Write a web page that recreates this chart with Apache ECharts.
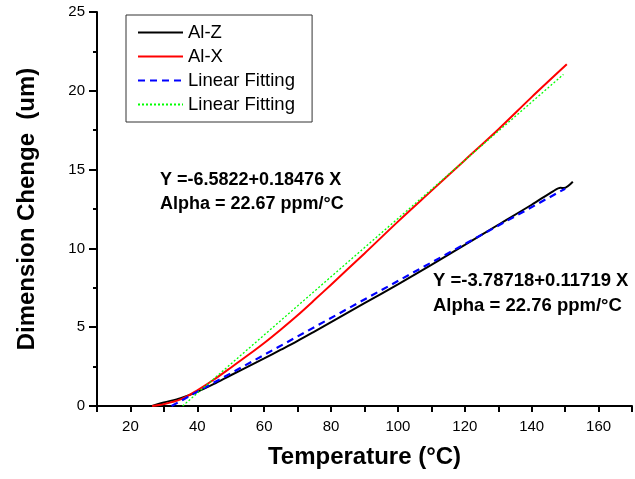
<!DOCTYPE html>
<html>
<head>
<meta charset="utf-8">
<script src="https://cdn.jsdelivr.net/npm/echarts@6/dist/echarts.min.js"></script>
<style>
html,body{margin:0;padding:0;background:#fff;}
#chart{width:635px;height:479px;}
</style>
</head>
<body>
<div id="chart"></div>
<script>
// Al-Z measured curve
var tempZ = [26.5, 30, 35, 40, 45, 50, 55, 60, 65, 70, 75, 80, 90, 100, 110, 120, 130, 140, 146.5, 148.6, 149.6, 152.3];
var alZ   = [0, 0.22, 0.5, 0.9, 1.4, 1.95, 2.48, 3.02, 3.57, 4.13, 4.72, 5.32, 6.52, 7.72, 8.95, 10.22, 11.5, 12.77, 13.64, 13.85, 13.83, 14.23];
// Al-X measured curve
var tempX = [26.5, 30, 35, 40, 45, 50, 55, 60, 65, 70, 75, 80, 90, 100, 110, 120, 130, 140, 150.5];
var alX   = [0, 0.12, 0.42, 1.0, 1.68, 2.43, 3.2, 4.0, 4.86, 5.76, 6.72, 7.7, 9.68, 11.7, 13.65, 15.6, 17.55, 19.6, 21.68];
// Linear fits (end points)
var fitZTemp = [32.3, 150];
var fitZVal  = [0, 13.79];
var fitXTemp = [35.6, 149.5];
var fitXVal  = [0, 21.04];

var seriesNames = ['Al-Z', 'Al-X', 'Linear Fitting', 'Linear Fitting '];
var xTitle = 'Temperature (°C)';
var yTitle = 'Dimension Chenge  (um)';
var note1 = ['Y =-6.5822+0.18476 X', 'Alpha = 22.67 ppm/°C'];
var note2 = ['Y =-3.78718+0.11719 X', 'Alpha = 22.76 ppm/°C'];

function pairs(xs, ys) { return xs.map(function (x, i) { return [x, ys[i]]; }); }

var FONT = 'Liberation Sans, Arial, sans-serif';
var chart = echarts.init(document.getElementById('chart'), null, {renderer: 'canvas'});
chart.setOption({
  animation: false,
  backgroundColor: '#fff',
  grid: {left: 97, right: 3, top: 12, bottom: 73, containLabel: false},
  xAxis: {
    type: 'value', min: 10, max: 170, interval: 10,
    axisLine: {show: true, onZero: false, lineStyle: {color: '#000', width: 2}},
    axisTick: {show: true, length: 6, lineStyle: {color: '#000', width: 2}},
    axisLabel: {margin: 13, color: '#000', fontSize: 15, fontFamily: FONT,
      formatter: function (v) { return v % 20 === 0 ? String(v) : ''; }},
    splitLine: {show: false},
    name: xTitle, nameLocation: 'middle', nameGap: 39,
    nameTextStyle: {fontSize: 24, fontWeight: 'bold', color: '#000', fontFamily: FONT}
  },
  yAxis: {
    type: 'value', min: 0, max: 25, interval: 5,
    axisLine: {show: true, lineStyle: {color: '#000', width: 2}},
    axisTick: {show: true, length: 8, lineStyle: {color: '#000', width: 2}},
    minorTick: {show: true, splitNumber: 2, length: 4, lineStyle: {color: '#000', width: 2}},
    axisLabel: {margin: 12, color: '#000', fontSize: 15, fontFamily: FONT},
    splitLine: {show: false},
    name: yTitle, nameLocation: 'middle', nameGap: 58,
    nameTextStyle: {fontSize: 24, fontWeight: 'bold', color: '#000', fontFamily: FONT}
  },
  legend: {
    orient: 'vertical', left: 126, top: 15,
    padding: [8, 12, 8, 11],
    itemWidth: 45, itemHeight: 14, itemGap: 5,
    borderColor: '#333', borderWidth: 1,
    itemStyle: {opacity: 0},
    textStyle: {fontSize: 18.5, color: '#000', fontFamily: FONT},
    data: seriesNames
  },
  series: [
    {name: seriesNames[0], type: 'line', symbol: 'none', smooth: 0.3, data: pairs(tempZ, alZ),
     lineStyle: {color: '#000', width: 2}, itemStyle: {color: '#000'}, z: 3},
    {name: seriesNames[1], type: 'line', symbol: 'none', smooth: 0.3, data: pairs(tempX, alX),
     lineStyle: {color: '#ff0000', width: 2}, itemStyle: {color: '#ff0000'}, z: 3},
    {name: seriesNames[2], type: 'line', symbol: 'none', data: pairs(fitZTemp, fitZVal),
     lineStyle: {color: '#0000ff', width: 2.2, type: [7, 5]}, itemStyle: {color: '#0000ff'}, z: 4},
    {name: seriesNames[3], type: 'line', symbol: 'none', data: pairs(fitXTemp, fitXVal),
     lineStyle: {color: '#00ff00', width: 1.3, type: [2, 2]}, itemStyle: {color: '#00ff00'}, z: 4}
  ],
  graphic: [
    {type: 'text', left: 160, top: 171, style: {text: note1[0], font: 'bold 18px ' + FONT, fill: '#000'}},
    {type: 'text', left: 160, top: 195, style: {text: note1[1], font: 'bold 18px ' + FONT, fill: '#000'}},
    {type: 'text', left: 433, top: 271, style: {text: note2[0], font: 'bold 18.5px ' + FONT, fill: '#000'}},
    {type: 'text', left: 433, top: 296, style: {text: note2[1], font: 'bold 18.5px ' + FONT, fill: '#000'}}
  ]
});
</script>
</body>
</html>
